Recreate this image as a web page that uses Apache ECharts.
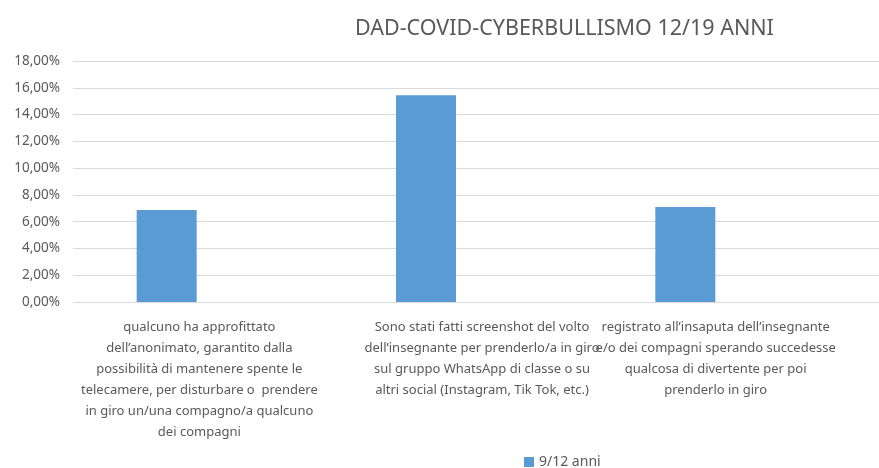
<!DOCTYPE html>
<html>
<head>
<meta charset="utf-8">
<script src="https://cdn.jsdelivr.net/npm/echarts@6/dist/echarts.min.js"></script>
<style>
  html, body { margin: 0; padding: 0; background: #fff; }
  #chart { width: 879px; height: 468px; }
</style>
</head>
<body>
<div id="chart"></div>
<script>
// dati
const categories = [
  'qualcuno ha approfittato\ndell\u2019anonimato, garantito dalla\npossibilità di mantenere spente le\ntelecamere, per disturbare o  prendere\nin giro un/una compagno/a qualcuno\ndei compagni',
  'Sono stati fatti screenshot del volto\ndell\u2019insegnante per prenderlo/a in giro\nsul gruppo WhatsApp di classe o su\naltri social (Instagram, Tik Tok, etc.)',
  'registrato all\u2019insaputa dell\u2019insegnante\ne/o dei compagni sperando succedesse\nqualcosa di divertente per poi\nprenderlo in giro'
]
const seriesName = '9/12 anni'
const values = [6.88, 15.44, 7.09]
const yMin = 0
const yMax = 18
const yStep = 2

const txtColor = '#595959'
const fontFam = 'Noto Sans, sans-serif'

// spostamento orizzontale delle etichette rispetto al centro della banda
const labelShift = [-8, 6, -29]
const richLabels = {}
labelShift.forEach((s, i) => {
  richLabels['c' + i] = {
    color: txtColor,
    fontSize: 13,
    lineHeight: 21,
    fontFamily: fontFam,
    padding: s < 0 ? [0, -2 * s, 0, 0] : [0, 0, 0, 2 * s]
  }
})

const chart = echarts.init(document.getElementById('chart'))
const option = {
  animation: false,
  title: {
    text: 'DAD-COVID-CYBERBULLISMO 12/19 ANNI',
    left: 350,
    top: 13,
    textStyle: { color: txtColor, fontSize: 21.5, fontWeight: 'normal', fontFamily: fontFam }
  },
  legend: {
    data: [seriesName],
    left: 519,
    top: 450,
    itemWidth: 10,
    itemHeight: 10,
    itemGap: 3,
    icon: 'rect',
    textStyle: { color: txtColor, fontSize: 14, fontFamily: fontFam }
  },
  grid: [
    // griglia per asse y, linee ed etichette
    { left: 73, right: 0, top: 61, bottom: 166, outerBoundsMode: 'none' },
    // griglia per le barre
    { left: 37, right: 64, top: 61, bottom: 166, outerBoundsMode: 'none' }
  ],
  xAxis: [
    {
      type: 'category',
      gridIndex: 0,
      data: categories,
      axisLine: { show: false },
      axisTick: { show: false },
      axisLabel: {
        interval: 0,
        hideOverlap: false,
        margin: 15,
        align: 'center',
        formatter: (v, i) => '{c' + i + '|' + v.split('\n').join('}\n{c' + i + '|') + '}',
        rich: richLabels
      }
    },
    { type: 'category', gridIndex: 1, data: categories, show: false }
  ],
  yAxis: [
    {
      type: 'value',
      gridIndex: 0,
      min: yMin,
      max: yMax,
      interval: yStep,
      axisLine: { show: false },
      axisTick: { show: false },
      splitLine: { lineStyle: { color: '#d9d9d9', width: 1 } },
      axisLabel: {
        margin: 13,
        color: txtColor,
        fontSize: 13.5,
        fontFamily: fontFam,
        formatter: v => v.toFixed(2).replace('.', ',') + '%'
      }
    },
    { type: 'value', gridIndex: 1, min: yMin, max: yMax, interval: yStep, show: false }
  ],
  series: [
    {
      name: seriesName,
      type: 'bar',
      xAxisIndex: 1,
      yAxisIndex: 1,
      barWidth: 60,
      itemStyle: { color: '#5b9bd5' },
      data: values
    }
  ]
}
chart.setOption(option)
</script>
</body>
</html>
